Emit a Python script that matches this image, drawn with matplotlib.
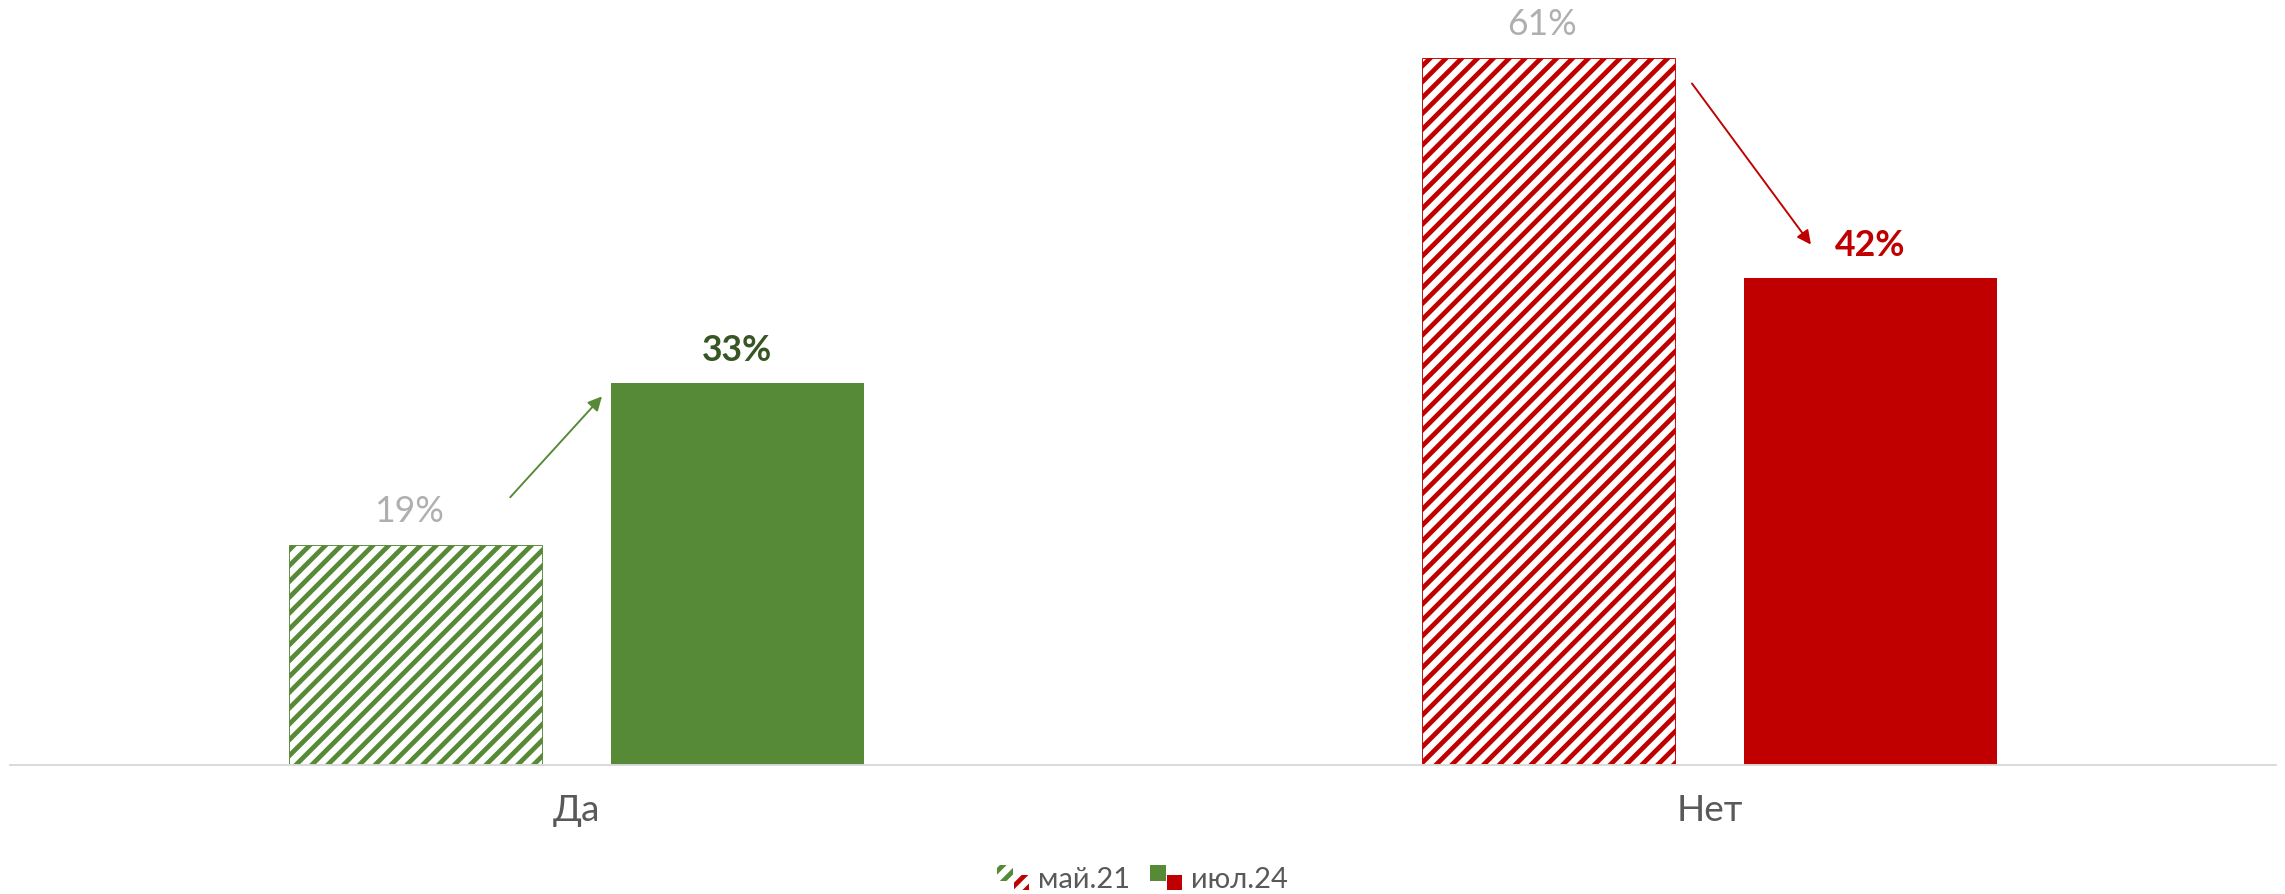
import numpy as np
import matplotlib
matplotlib.use('Agg')
from matplotlib import pyplot as plt
from matplotlib.patches import Rectangle
from matplotlib.legend_handler import HandlerBase

categories = ['Да', 'Нет']
may21 = [19, 61]
jul24 = [33, 42]
series_names = ['май.21', 'июл.24']

green = '#568A37'
red = '#C00000'
bar_colors = [green, red]
label_colors = ['#375623', red]
grey = '#AFAFAF'

plt.rcParams['font.family'] = ['Lato', 'DejaVu Sans']
plt.rcParams['hatch.linewidth'] = 3.6

DPI = 95
fig = plt.figure(figsize=(2285 / DPI, 894 / DPI), dpi=DPI)
ax = fig.add_axes([10 / 2285, (894 - 765) / 894, 2266 / 2285, 765 / 894])

x = np.arange(len(categories))
w = 0.223
off = 0.142

ax.bar(x - off, may21, width=w, facecolor='white', edgecolor=bar_colors,
       hatch='//', linewidth=0.7)
ax.bar(x + off, jul24, width=w, color=bar_colors, linewidth=0)

for i in range(len(categories)):
    ax.text(x[i] - off - 0.006, may21[i] + 2.9, f'{may21[i]}%', ha='center', va='center',
            fontsize=27, color=grey)
    ax.text(x[i] + off, jul24[i] + 2.8, f'{jul24[i]}%', ha='center', va='center',
            fontsize=27, color=label_colors[i], fontweight='bold')

# arrows between the two periods
ax.annotate('', xy=(x[0] + off - w / 2 - 0.008, jul24[0] - 1.2),
            xytext=(x[0] - off + w / 2 - 0.028, may21[0] + 4.1),
            arrowprops=dict(arrowstyle='-|>', color=green, lw=1.45, mutation_scale=22,
                            shrinkA=0, shrinkB=0))
ax.annotate('', xy=(x[1] + off - w / 2 + 0.059, jul24[1] + 2.9),
            xytext=(x[1] - off + w / 2 + 0.015, may21[1] - 2.2),
            arrowprops=dict(arrowstyle='-|>', color=red, lw=1.45, mutation_scale=22,
                            shrinkA=0, shrinkB=0))

ax.set_xlim(-0.5, 1.5)
ax.set_ylim(0, 66)
ax.set_xticks(x)
ax.set_xticklabels(categories, fontsize=28, color='#595959')
ax.tick_params(axis='x', length=0, pad=22)
ax.set_yticks([])
for s in ['top', 'left', 'right']:
    ax.spines[s].set_visible(False)
ax.spines['bottom'].set_color('#D9D9D9')
ax.spines['bottom'].set_linewidth(1.45)


class PairHandler(HandlerBase):
    def __init__(self, hatched):
        super().__init__()
        self.hatched = hatched

    def create_artists(self, legend, orig_handle, xdescent, ydescent, width, height,
                       fontsize, trans):
        s = height * 0.62
        x0, y0 = -xdescent, -ydescent
        arts = []
        for (px, py), c in [((x0, y0 + height - s), green), ((x0 + width - s, y0), red)]:
            if self.hatched:
                r = Rectangle((px, py), s, s, facecolor='white', edgecolor=c,
                              hatch='//', linewidth=0, transform=trans)
            else:
                r = Rectangle((px, py), s, s, facecolor=c, linewidth=0, transform=trans)
            arts.append(r)
        return arts


h1 = Rectangle((0, 0), 1, 1)
h2 = Rectangle((0, 0), 1, 1)
fig.legend([h1, h2], series_names, loc='center', bbox_to_anchor=(0.5, 0.017),
           ncol=2, frameon=False, fontsize=22, labelcolor='#595959',
           handler_map={h1: PairHandler(True), h2: PairHandler(False)},
           handlelength=1.1, handleheight=0.95, handletextpad=0.3, columnspacing=0.7)

fig.savefig('out.png', dpi=DPI)
